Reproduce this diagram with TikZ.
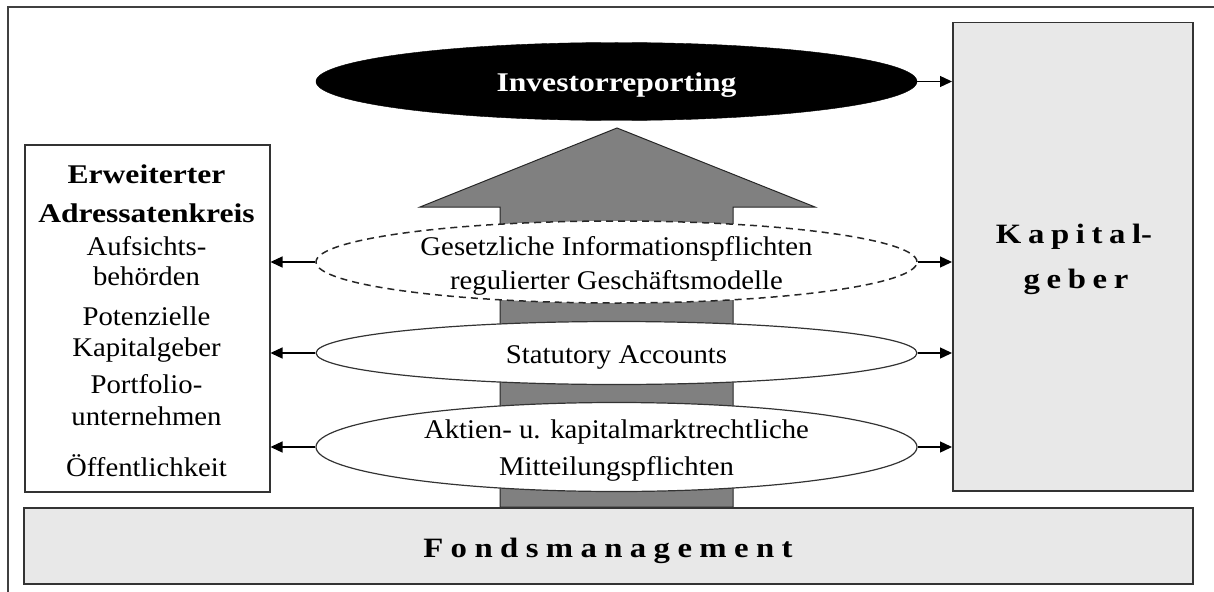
\documentclass[tikz,border=0pt]{standalone}
\usepackage{fontspec}
\setmainfont{Liberation Serif}[FakeStretch=1.065, BoldFeatures={FakeStretch=1.17}]
\usetikzlibrary{arrows.meta, shapes.geometric}
\newcommand{\fk}{\kern7.4pt}
\newcommand{\kk}{\kern6.6pt}
\begin{document}
\begin{tikzpicture}[x=1pt,y=-1pt,
  frameline/.style={draw=black!75, line width=1.5pt},
  graybox/.style={draw=black!80, line width=1.5pt, fill=black!9, inner sep=0, anchor=north west},
  whitebox/.style={draw=black!80, line width=1.5pt, fill=white, inner sep=0, anchor=north west},
  ell/.style={ellipse, draw=black!80, line width=1.2pt, fill=white, inner sep=0, minimum width=601pt},
  dashell/.style={ell, draw=black!85, line width=1.5pt, dash pattern=on 7pt off 5pt},
  blackell/.style={ellipse, fill=black, draw=black, inner sep=0, minimum width=601pt},
  txt/.style={inner sep=0, anchor=base, font=\fontsize{27}{32}\selectfont},
  btxt/.style={txt, font=\fontsize{27}{32}\selectfont\bfseries},
  htxt/.style={txt, font=\fontsize{28}{32}\selectfont\bfseries},
  con/.style={line width=1.3pt, -{Triangle[length=12pt,width=11pt]}},
  bigarrow/.style={fill=black!50, draw=black!85, line width=1pt}]
\useasboundingbox (0,0) rectangle (1214,591);
% outer frame
\draw[frameline] (8,595) -- (8,7) -- (1220,7);
% big gray arrow
\draw[bigarrow] (617,128) -- (815,207) -- (733,207) -- (733,507) -- (500,507) -- (500,207) -- (420,207) -- cycle;
% boxes
\node[whitebox, minimum width=245pt, minimum height=347pt] (lb) at (24,144) {};
\node[graybox, minimum width=240pt, minimum height=468pt] (kap) at (952,22) {};
\node[graybox, minimum width=1169pt, minimum height=76pt] (fonds) at (23,507) {};
% ellipses
\node[blackell, minimum height=78pt] (e0) at (616.5,81.5) {};
\node[dashell, minimum height=82pt] (e1) at (616.5,262) {};
\node[ell, minimum height=63pt] (e2) at (616.5,353) {};
\node[ell, minimum height=89pt] (e3) at (616.5,447) {};
% texts in ellipses
\node[btxt, text=white] (t0) at (616.5,92) {Investorreporting};
\node[txt] (t1a) at (616.5,255) {Gesetzliche Informationspflichten};
\node[txt] (t1b) at (616.5,289) {regulierter Geschäftsmodelle};
\node[txt] (t2) at (616.5,363) {Statutory Accounts};
\node[txt] (t3a) at (616.5,438) {Aktien- u. kapitalmarktrechtliche};
\node[txt] (t3b) at (616.5,475) {Mitteilungspflichten};
% left box texts
\node[btxt] (l1) at (146.5,183) {Erweiterter};
\node[btxt] (l2) at (146.5,222) {Adressatenkreis};
\node[txt] (l3) at (146.5,255) {Aufsichts-};
\node[txt] (l4) at (146.5,285) {behörden};
\node[txt] (l5) at (146.5,325) {Potenzielle};
\node[txt] (l6) at (146.5,356) {Kapitalgeber};
\node[txt] (l7) at (146.5,393) {Portfolio-};
\node[txt] (l8) at (146.5,425) {unternehmen};
\node[txt] (l9) at (146.5,476) {Öffentlichkeit};
% heading texts
\node[htxt] (k1) at (1074,243) {K\kk a\kk p\kk i\kk t\kk a\kk l-};
\node[htxt] (k2) at (1076,288) {g\kk e\kk b\kk e\kk r};
\node[htxt] (f1) at (608,557) {F\fk o\fk n\fk d\fk s\fk m\fk a\fk n\fk a\fk g\fk e\fk m\fk e\fk n\fk t};
% connectors
\draw[con] (e0.east) -- (kap.west |- e0.east);
\draw[con] (e1.east) -- (kap.west |- e1.east);
\draw[con] (e2.east) -- (kap.west |- e2.east);
\draw[con] (e3.east) -- (kap.west |- e3.east);
\draw[con] (e1.west) -- (lb.east |- e1.west);
\draw[con] (e2.west) -- (lb.east |- e2.west);
\draw[con] (e3.west) -- (lb.east |- e3.west);
\end{tikzpicture}
\end{document}
